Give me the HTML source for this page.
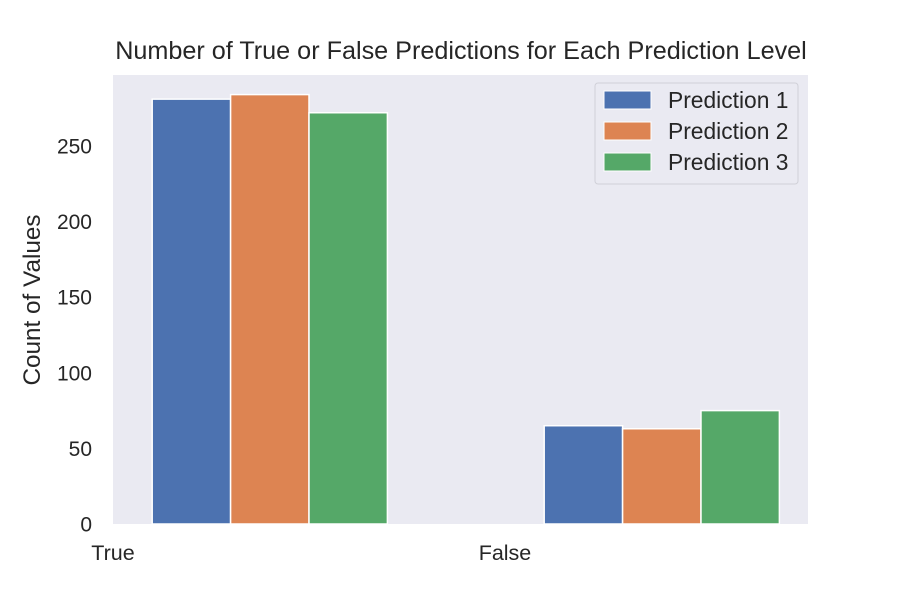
<!DOCTYPE html>
<html><head><meta charset="utf-8"><style>
body{margin:0;background:#fff;font-family:"Liberation Sans",sans-serif;}
</style></head><body>
<svg width="900" height="600" xmlns="http://www.w3.org/2000/svg" id="svg" font-family="Liberation Sans, sans-serif">
<text x="461" y="59" font-size="25.2" text-anchor="middle" fill="#262626">Number of True or False Predictions for Each Prediction Level</text>
<rect x="113" y="75" width="695" height="449" fill="#EAEAF2"/>
<g id="bars"></g><g id="yticks"></g><g id="xticks"></g>
<text transform="translate(40,300) rotate(-90)" font-size="24.3" text-anchor="middle" fill="#262626">Count of Values</text>
<g>
<rect x="595" y="83" width="203" height="101" rx="3" fill="#EAEAF2" stroke="#d0d0d8"/>
<g id="leg"></g>
</g>
</svg>
<script>
const categories=["True","False"];
const series=["Prediction 1","Prediction 2","Prediction 3"];
const pred1=[281,65];
const pred2=[284,63];
const pred3=[272,75];
const yTicks=[0,50,100,150,200,250];
const colors=["#4C72B0","#DD8452","#55A868"];
const values=[pred1,pred2,pred3];
const NS="http://www.w3.org/2000/svg";
const X0=113,X1=808,Y0=524,yPerUnit=1.512,xmin=0,xmax=1.773,bw=0.2;
const xs=v=>X0+(v-xmin)/(xmax-xmin)*(X1-X0);
const ys=v=>Y0-v*yPerUnit;
function mk(tag,attrs,parent){const e=document.createElementNS(NS,tag);for(const k in attrs)e.setAttribute(k,attrs[k]);parent.appendChild(e);return e;}
const bars=document.getElementById('bars');
values.forEach((arr,si)=>{arr.forEach((v,ci)=>{
 const c=ci+bw*(si+1);
 const r=mk('rect',{x:xs(c-bw/2),y:ys(v),width:xs(c+bw/2)-xs(c-bw/2),height:Y0-ys(v),fill:colors[si],stroke:"#fff","stroke-width":1.5},bars);
 
 
});});
const yt=document.getElementById('yticks');
yTicks.forEach(t=>{const e=mk('text',{x:92,y:ys(t)+7.5,"font-size":21,"text-anchor":"end",fill:"#262626"},yt);e.textContent=t;
 
 });
const xt=document.getElementById('xticks');
categories.forEach((c,i)=>{const e=mk('text',{x:xs(i),y:560,"font-size":21.5,"text-anchor":"middle",fill:"#262626"},xt);e.textContent=c;
 
 });
const leg=document.getElementById('leg');
series.forEach((s,i)=>{const y=91+i*31;
 const r=mk('rect',{x:604,y:y,width:47,height:18,fill:colors[i],stroke:"#fff"},leg);
 
 
 const t=mk('text',{x:668,y:y+17,"font-size":22.8,fill:"#262626"},leg);t.textContent=s;
 
 });
</script>
</body></html>
